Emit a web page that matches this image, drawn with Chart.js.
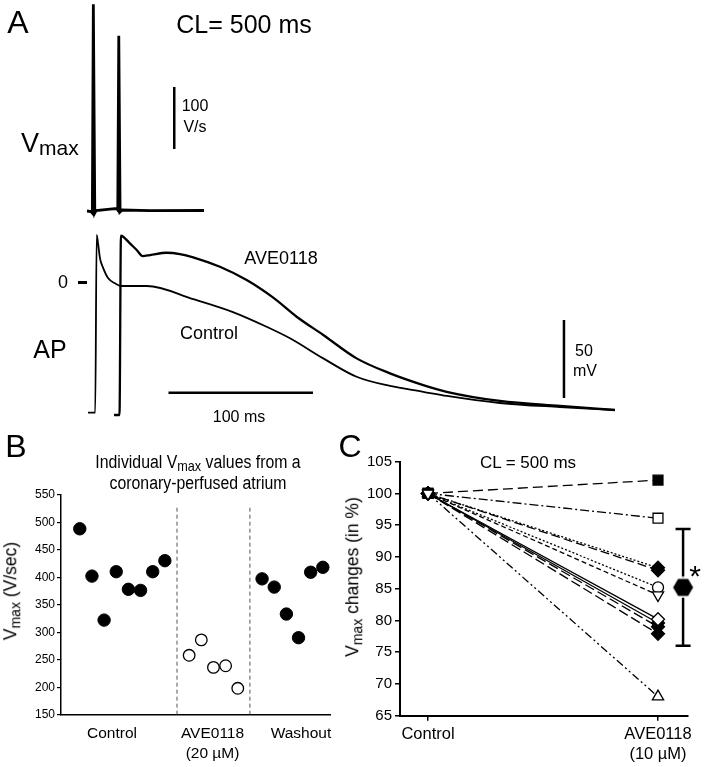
<!DOCTYPE html>
<html>
<head>
<meta charset="utf-8">
<script src="https://cdn.jsdelivr.net/npm/chart.js@4.4.0/dist/chart.umd.min.js"></script>
<style>
body { margin: 0; background: #fff; }
#fig { position: relative; width: 705px; height: 767px; overflow: hidden; font-family: "Liberation Sans", Arial, sans-serif; color: #000; }
canvas { position: absolute; }
.lbl { position: absolute; white-space: nowrap; line-height: 1; transform: translate(-50%, -50%); }
.rot { transform: translate(-50%, -50%) rotate(-90deg); }
.sub { font-size: 0.8em; vertical-align: -0.25em; }
.bar { position: absolute; background: #000; }
</style>
</head>
<body>
<div id="fig">
  <canvas id="vmaxTrace" width="705" height="220" style="left:0;top:0"></canvas>
  <canvas id="apTrace" width="705" height="200" style="left:0;top:220px"></canvas>
  <canvas id="panelB" width="352" height="347" style="left:0;top:420px"></canvas>
  <canvas id="panelC" width="353" height="347" style="left:352px;top:420px"></canvas>

  <!-- panel A text -->
  <div class="lbl" style="left:18px;top:22px;font-size:32px">A</div>
  <div class="lbl" style="left:244px;top:24px;font-size:25px">CL= 500 ms</div>
  <div style="position:absolute;left:21px;top:130px;font-size:27px;line-height:1;white-space:nowrap">V<span style="font-size:21px;vertical-align:-3px">max</span></div>
  <div class="lbl" style="left:195px;top:106px;font-size:16px">100</div>
  <div class="lbl" style="left:195px;top:127px;font-size:16px">V/s</div>
  <div class="lbl" style="left:63px;top:282px;font-size:18px">0</div>
  <div class="bar" style="left:78px;top:281px;width:9px;height:3px"></div>
  <div class="lbl" style="left:50px;top:349px;font-size:25px">AP</div>
  <div class="lbl" style="left:281px;top:258px;font-size:18px">AVE0118</div>
  <div class="lbl" style="left:209px;top:333px;font-size:18px">Control</div>
  <div class="lbl" style="left:239px;top:417px;font-size:16px">100 ms</div>
  <div class="lbl" style="left:584px;top:351px;font-size:16px">50</div>
  <div class="lbl" style="left:585px;top:371px;font-size:16px">mV</div>

  <!-- panel B text -->
  <div class="lbl" style="left:16px;top:446px;font-size:32px">B</div>
  <div class="lbl" style="left:198px;top:463px;font-size:18px;transform:translate(-50%,-50%) scaleX(0.88)">Individual V<span class="sub">max</span> values from a</div>
  <div class="lbl" style="left:198px;top:483px;font-size:18px;transform:translate(-50%,-50%) scaleX(0.88)">coronary-perfused atrium</div>
  <div class="lbl rot" style="left:12px;top:591px;font-size:17.5px">V<span class="sub">max</span> (V/sec)</div>

  <!-- panel C text -->
  <div class="lbl" style="left:350px;top:446px;font-size:32px">C</div>
  <div class="lbl" style="left:528px;top:462px;font-size:17px">CL = 500 ms</div>
  <div class="lbl rot" style="left:354px;top:577px;font-size:17.5px">V<span class="sub">max</span> changes (in %)</div>
  <div class="lbl" style="left:695px;top:576px;font-size:30px">*</div>
</div>

<script>
// ---- Panel A: Vmax (dV/dt) trace, time in ms from first upstroke, rate in V/s
const vmaxTime = [-4.4, -1.6, -0.7, 0, 1.0, 1.9, 11.6, 16.1, 16.9, 17.6, 18.5, 19.9, 39.2, 76.6];
const vmaxRate = [-0.5, -1.3, -3.7, 333, -3.7, 0.3, 2.7, 3.5, 1.0, 282, -2.1, 1.1, 0, 0.3];

// ---- Panel A: action potentials, time in ms, potential in mV
const controlTime = [-6.2, -1.2, -0.2, 0.9, 2.1, 4.4, 7.8, 12.5, 16.6, 34.6, 66.6, 94.1, 117.4, 133.6, 156.6, 179.7, 202.8, 225.8, 242.2, 278.9, 320.4, 358.5];
const controlPotential = [-83.1, -83.1, 30.8, 24.4, 15.8, 9.4, 3.0, -0.2, -1.9, -1.9, -10.3, -18.6, -28.0, -35.4, -48.3, -60.1, -66.0, -69.7, -72.4, -76.9, -79.5, -81.4];
const aveTime = [11.8, 15.6, 16.6, 18.2, 22.8, 27.5, 31.6, 36.7, 48.2, 57.4, 66.6, 85.1, 103.6, 122.0, 138.2, 156.6, 179.7, 202.8, 225.8, 242.0, 278.9, 320.4, 358.5];
const avePotential = [-84.6, -84.6, 30.3, 29.7, 25.4, 21.2, 17.3, 17.9, 19.4, 18.6, 16.5, 10.4, 1.9, -9.4, -21.6, -33.3, -48.3, -57.9, -65.4, -69.7, -75.6, -78.8, -81.4];

// scale bars
const rateBar = { time: 56.0, from: 99.5, to: 199.5 };     // 100 V/s
const timeBar = { from: 49.5, to: 149.5, level: -70.3 };   // 100 ms
const voltBar = { time: 323.2, from: -73.7, to: -23.7 };   // 50 mV

// ---- Panel B: individual Vmax values (V/sec)
const controlIndex = [1, 2, 3, 4, 5, 6, 7, 8];
const controlVmax = [488, 402, 322, 410, 378, 376, 410, 430];
const aveIndex = [10, 11, 12, 13, 14];
const aveVmax = [258, 286, 236, 239, 198];
const washoutIndex = [16, 17, 18, 19, 20, 21];
const washoutVmax = [397, 382, 333, 290, 409, 418];
const groupBoundaries = [9, 15];
const groupCenters = [3.65, 11.92, 19.2];
const groupLabels = ['Control', ['AVE0118', '(20 µM)'], 'Washout'];
const vmaxTicks = [150, 550, 50];

// ---- Panel C: Vmax changes (%), control vs AVE0118 10 µM
const conditionLabels = ['Control', ['AVE0118', '(10 µM)']];
const controlPercent = 100;
const avePercent = [102.1, 96.1, 88.3, 87.9, 85.2, 84.0, 80.2, 79.6, 79.0, 77.9, 68.0];
const meanChange = 85.2;
const sdChange = 9.2;

// styles for the lines in C
const seriesDash = [[10, 5], [9, 3, 2, 3], [2, 2], [9, 4], [2, 2], [5, 3], [], [], [10, 4], [10, 4], [8, 3, 2, 3, 2, 3]];
const seriesMarker = ['rect', 'rect', 'rectRot', 'rectRot', 'circle', 'triangle', 'rectRot', 'rectRot', 'rectRot', 'rectRot', 'triangle'];
const seriesFilled = [true, false, true, true, false, false, false, true, true, true, false];
const seriesRotation = [0, 0, 0, 0, 0, 180, 0, 0, 0, 0, 0];
const markerRadius = { rect: 7, rectRot: 6.5, circle: 5.5, triangle: 6.5 };

Chart.defaults.font.family = '"Liberation Sans", Arial, sans-serif';
Chart.defaults.color = '#000';
Chart.defaults.animation = false;

function toPoints(xs, ys) {
    return xs.map((x, i) => ({ x: x, y: ys[i] }));
}

function traceChart(id, datasets, xRange, yRange) {
    return new Chart(document.getElementById(id), {
        type: 'scatter',
        data: { datasets: datasets },
        options: {
            responsive: false,
            animation: false,
            layout: { padding: 0 },
            plugins: { legend: { display: false }, tooltip: { enabled: false } },
            scales: {
                x: { type: 'linear', display: false, min: xRange[0], max: xRange[1] },
                y: { type: 'linear', display: false, min: yRange[0], max: yRange[1] }
            }
        }
    });
}

function lineSet(points, width, smooth) {
    return {
        data: points,
        showLine: true,
        borderColor: '#000',
        borderWidth: width,
        pointRadius: 0,
        cubicInterpolationMode: smooth ? 'monotone' : 'default',
        tension: 0
    };
}

// Vmax trace
traceChart('vmaxTrace', [
    lineSet(toPoints(vmaxTime, vmaxRate), 2.8, false),
    lineSet([{ x: rateBar.time, y: rateBar.from }, { x: rateBar.time, y: rateBar.to }], 2.5, false)
], [-64.6, 423.3], [-15.0, 339.8]);

// AP traces
traceChart('apTrace', [
    lineSet(toPoints(controlTime, controlPotential), 1.8, true),
    lineSet(toPoints(aveTime, avePotential), 2.3, true),
    lineSet([{ x: timeBar.from, y: timeBar.level }, { x: timeBar.to, y: timeBar.level }], 2.5, false),
    lineSet([{ x: voltBar.time, y: voltBar.from }, { x: voltBar.time, y: voltBar.to }], 2.5, false)
], [-67.1, 420.8], [-87.8, 40.4]);

// Panel B
const dividerSets = groupBoundaries.map(b => ({
    data: [{ x: b, y: vmaxTicks[0] }, { x: b, y: 532 }],
    showLine: true,
    borderColor: '#555',
    borderWidth: 1,
    borderDash: [4, 3],
    pointRadius: 0
}));

new Chart(document.getElementById('panelB'), {
    type: 'scatter',
    data: {
        datasets: [
            { data: toPoints(controlIndex, controlVmax), pointRadius: 6.2, pointBackgroundColor: '#000', pointBorderColor: '#000', pointBorderWidth: 1 },
            { data: toPoints(aveIndex, aveVmax), pointRadius: 5.8, pointBackgroundColor: '#fff', pointBorderColor: '#000', pointBorderWidth: 1.3 },
            { data: toPoints(washoutIndex, washoutVmax), pointRadius: 6.2, pointBackgroundColor: '#000', pointBorderColor: '#000', pointBorderWidth: 1 }
        ].concat(dividerSets)
    },
    options: {
        responsive: false,
        animation: false,
        layout: { padding: { top: 74.7, right: 22, left: 0, bottom: 0 } },
        plugins: { legend: { display: false }, tooltip: { enabled: false } },
        scales: {
            x: {
                type: 'linear', min: -0.547, max: 21.59,
                grid: { display: false, drawTicks: false },
                border: { display: true, color: '#000', width: 1.5 },
                afterBuildTicks: s => { s.ticks = groupCenters.map(v => ({ value: v })); },
                afterFit: s => { s.height = 52.3; },
                ticks: {
                    autoSkip: false, maxRotation: 0, minRotation: 0, padding: 9,
                    font: { size: 15.5, lineHeight: 1.3 }, color: '#000',
                    callback: (v, i) => groupLabels[i]
                }
            },
            y: {
                type: 'linear', min: vmaxTicks[0], max: vmaxTicks[1],
                ticks: { stepSize: vmaxTicks[2], font: { size: 12 }, padding: 2, color: '#000' },
                grid: { drawOnChartArea: false, tickLength: 4, color: '#000', lineWidth: 1.2 },
                border: { color: '#000', width: 1.5 },
                afterFit: s => { s.width = 61; }
            }
        }
    }
});

// Panel C
const meanX = 1.109;

function hexagonImage() {
    const c = document.createElement('canvas');
    c.width = 25;
    c.height = 22;
    const g = c.getContext('2d');
    const pts = [[2.5, 11], [7.5, 2.5], [17.5, 2.5], [22.5, 11], [17.5, 19.5], [7.5, 19.5]];
    g.beginPath();
    pts.forEach((p, i) => i ? g.lineTo(p[0], p[1]) : g.moveTo(p[0], p[1]));
    g.closePath();
    g.lineWidth = 4;
    g.strokeStyle = '#fff';
    g.stroke();
    g.fillStyle = '#000';
    g.fill();
    return c;
}

const errorBarPlugin = {
    id: 'errorBar',
    beforeDatasetsDraw(chart) {
        const { ctx, scales: { x, y } } = chart;
        const px = x.getPixelForValue(meanX);
        const top = y.getPixelForValue(meanChange + sdChange);
        const bottom = y.getPixelForValue(meanChange - sdChange);
        ctx.save();
        ctx.strokeStyle = '#000';
        ctx.lineWidth = 2.5;
        ctx.beginPath();
        ctx.moveTo(px, top); ctx.lineTo(px, bottom);
        ctx.moveTo(px - 7.5, top); ctx.lineTo(px + 7.5, top);
        ctx.moveTo(px - 7.5, bottom); ctx.lineTo(px + 7.5, bottom);
        ctx.stroke();
        ctx.restore();
    }
};

const seriesSets = avePercent.map((v, i) => ({
    data: [{ x: 0, y: controlPercent }, { x: 1, y: v }],
    showLine: true,
    borderColor: '#000',
    borderWidth: 1.3,
    borderDash: seriesDash[i],
    pointStyle: seriesMarker[i],
    rotation: seriesRotation[i],
    pointRadius: markerRadius[seriesMarker[i]],
    pointBackgroundColor: seriesFilled[i] ? '#000' : '#fff',
    pointBorderColor: '#000',
    pointBorderWidth: 1.3,
    order: seriesRotation[i] ? -1 : i
}));

new Chart(document.getElementById('panelC'), {
    type: 'scatter',
    data: {
        datasets: seriesSets.concat([{
            data: [{ x: meanX, y: meanChange }],
            pointStyle: hexagonImage(),
            pointRadius: 10,
            clip: false,
            order: -2
        }])
    },
    options: {
        responsive: false,
        animation: false,
        layout: { padding: { top: 41.7, right: 17, left: 0, bottom: 0 } },
        plugins: { legend: { display: false }, tooltip: { enabled: false } },
        scales: {
            x: {
                type: 'linear', min: -0.1217, max: 1.1304,
                grid: { drawOnChartArea: false, tickLength: 5, color: '#000', lineWidth: 1.5 },
                border: { color: '#000', width: 2 },
                afterBuildTicks: s => { s.ticks = [0, 1].map(v => ({ value: v })); },
                afterFit: s => { s.height = 51.3; },
                ticks: {
                    autoSkip: false, maxRotation: 0, minRotation: 0, padding: 4,
                    font: { size: 16.5, lineHeight: 1.2 }, color: '#000',
                    callback: (v, i) => conditionLabels[i]
                }
            },
            y: {
                type: 'linear', min: 65, max: 105,
                ticks: { stepSize: 5, font: { size: 15 }, padding: 3, color: '#000' },
                grid: { drawOnChartArea: false, tickLength: 5, color: '#000', lineWidth: 1.5 },
                border: { color: '#000', width: 2 },
                afterFit: s => { s.width = 48; }
            }
        }
    },
    plugins: [errorBarPlugin]
});
</script>
</body>
</html>
